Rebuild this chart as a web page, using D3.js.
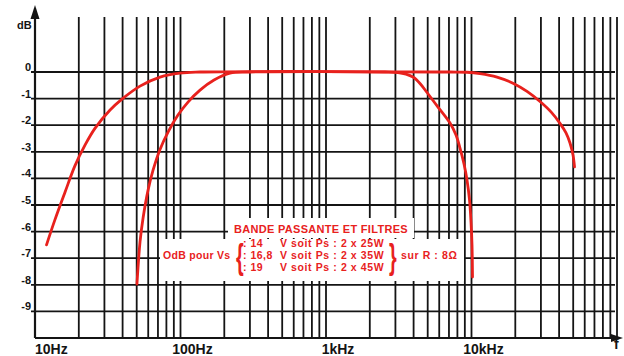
<!DOCTYPE html>
<html>
<head>
<meta charset="utf-8">
<script src="https://cdn.jsdelivr.net/npm/d3@7"></script>
<style>
body { margin: 0; background: #fff; }
svg text { font-family: "Liberation Sans", Arial, sans-serif; font-weight: bold; }
</style>
</head>
<body>
<svg id="chart" width="624" height="356"></svg>
<script>
// Data
var dbTicks = [0, -1, -2, -3, -4, -5, -6, -7, -8, -9];
var dbLabels = ["0", "-1", "-2", "-3", "-4", "-5", "-6", "-7", "-8", "-9"];
var freqLabelValues = [10, 100, 1000, 10000];
var freqLabels = ["10Hz", "100Hz", "1kHz", "10kHz"];

// wide curve (bande passante), Hz / dB
var wideFreq = [12.0, 13.7, 16.1, 18.8, 22.1, 25.9, 32.8, 39.6, 52.7, 72.3, 99.2, 136,
	7117, 9314, 11440, 14970, 19280, 24070, 29570, 35190, 40570, 44620, 47530, 49850, 51050];
var wideDb = [-6.5, -5.56, -4.51, -3.53, -2.74, -2.11, -1.43, -1.02, -0.53, -0.19, -0.04, 0,
	0, -0.01, -0.06, -0.19, -0.42, -0.73, -1.11, -1.5, -1.93, -2.29, -2.67, -3.12, -3.57];

// narrow curve (filtres), Hz / dB
var narrowFreq = [50.2, 52.7, 55.3, 59.8, 64.7, 72.3, 82.1, 96.1, 112.6, 136.2, 170, 219, 300,
	2544, 3125, 3545, 3962, 4426, 4946, 5886, 7117, 7825, 8337, 8883, 9314, 9690, 9922, 10080, 10160];
var narrowDb = [-7.97, -6.39, -5.49, -4.45, -3.7, -2.91, -2.26, -1.62, -1.13, -0.68, -0.3, -0.04, 0,
	0, -0.02, -0.08, -0.19, -0.43, -0.77, -1.32, -1.92, -2.37, -2.86, -3.46, -4.06, -4.81, -5.64, -6.5, -7.71];

var legendTitle = "BANDE PASSANTE ET FILTRES";
var voltages = ["14", "16,8", "19"];
var powers = ["25", "35", "45"];

var red = "#e8211d";
var ink = "#141414";

var svg = d3.select("#chart");

var x = d3.scaleLog().domain([10, 100000]).range([35, 617]);
var y = d3.scaleLinear().domain([0, -10]).range([72, 338]);

// vertical grid
svg.append("g")
	.selectAll("line")
	.data(x.ticks().filter(function(d) { return d > 10; }))
	.enter()
	.append("line")
	.attr("x1", function(d) { return x(d); })
	.attr("x2", function(d) { return x(d); })
	.attr("y1", 17)
	.attr("y2", y(-10))
	.attr("stroke", ink)
	.attr("stroke-width", 1.8);

// horizontal grid
svg.append("g")
	.selectAll("line")
	.data(dbTicks)
	.enter()
	.append("line")
	.attr("x1", 31)
	.attr("x2", 615)
	.attr("y1", function(d) { return y(d); })
	.attr("y2", function(d) { return y(d); })
	.attr("stroke", ink)
	.attr("stroke-width", 1.8);

// axes with arrows
svg.append("line")
	.attr("x1", x(10)).attr("x2", x(10))
	.attr("y1", y(-10)).attr("y2", 12)
	.attr("stroke", ink).attr("stroke-width", 2.2);
svg.append("path")
	.attr("d", "M" + x(10) + ",5 l-4.5,14 h9 z")
	.attr("fill", ink);
svg.append("line")
	.attr("x1", x(10)).attr("x2", 616)
	.attr("y1", y(-10)).attr("y2", y(-10))
	.attr("stroke", ink).attr("stroke-width", 2.2);
svg.append("path")
	.attr("d", "M623," + y(-10) + " l-12,-4 v8 z")
	.attr("fill", ink);

// y labels
svg.append("g")
	.selectAll("text")
	.data(dbTicks)
	.enter()
	.append("text")
	.attr("x", 31)
	.attr("y", function(d) { return y(d) - 1; })
	.attr("text-anchor", "end")
	.attr("font-size", 11)
	.attr("fill", ink)
	.text(function(d, i) { return dbLabels[i]; });

svg.append("text")
	.attr("x", 17).attr("y", 29)
	.attr("font-size", 11)
	.attr("fill", ink)
	.text("dB");

// x labels
svg.append("g")
	.selectAll("text")
	.data(freqLabelValues)
	.enter()
	.append("text")
	.attr("x", function(d, i) { return i == 0 ? x(d) : x(d) + 12; })
	.attr("y", 354)
	.attr("text-anchor", function(d, i) { return i == 0 ? "start" : "middle"; })
	.attr("font-size", 14)
	.attr("fill", ink)
	.text(function(d, i) { return freqLabels[i]; });

svg.append("text")
	.attr("x", 614).attr("y", 349)
	.attr("font-size", 14)
	.attr("fill", ink)
	.text("f");

// curves
var line = d3.line()
	.x(function(d) { return x(d[0]); })
	.y(function(d) { return y(d[1]); })
	.curve(d3.curveCatmullRom.alpha(0.5));

[[wideFreq, wideDb], [narrowFreq, narrowDb]].forEach(function(s) {
	svg.append("path")
		.datum(s[0].map(function(f, i) { return [f, s[1][i]]; }))
		.attr("d", line)
		.attr("fill", "none")
		.attr("stroke", red)
		.attr("stroke-width", 2.8)
		.attr("stroke-linecap", "round");
});

// legend block (white patches under the text, like the print)
svg.append("rect").attr("x", 228).attr("y", 218).attr("width", 186).attr("height", 20).attr("fill", "#fff");
svg.append("rect").attr("x", 160).attr("y", 239).attr("width", 304).attr("height", 42).attr("fill", "#fff");

var leg = svg.append("g").attr("fill", red);

leg.append("text")
	.attr("x", 321).attr("y", 233)
	.attr("text-anchor", "middle")
	.attr("font-size", 11)
	.attr("letter-spacing", 0.3)
	.text(legendTitle);

leg.append("text")
	.attr("x", 163).attr("y", 259)
	.attr("font-size", 10.5)
	.attr("letter-spacing", 0.3)
	.text("OdB  pour  Vs");

leg.append("text")
	.attr("x", 0).attr("y", 0)
	.attr("transform", "translate(236,269) scale(0.55,0.95)")
	.attr("font-size", 36)
	.attr("font-weight", "normal")
	.text("{");

leg.selectAll("text.row1")
	.data(voltages)
	.enter()
	.append("text")
	.attr("x", 243)
	.attr("y", function(d, i) { return 247 + i * 12; })
	.attr("font-size", 10.5)
	.attr("letter-spacing", 0.5)
	.text(function(d) { return ": " + d; });

leg.selectAll("text.row2")
	.data(powers)
	.enter()
	.append("text")
	.attr("x", 280)
	.attr("y", function(d, i) { return 247 + i * 12; })
	.attr("font-size", 10.5)
	.attr("letter-spacing", 0.6)
	.text(function(d) { return "V soit Ps : 2 x " + d + "W"; });

leg.append("text")
	.attr("x", 0).attr("y", 0)
	.attr("transform", "translate(389,269) scale(0.55,0.95)")
	.attr("font-size", 36)
	.attr("font-weight", "normal")
	.text("}");

leg.append("text")
	.attr("x", 401).attr("y", 259)
	.attr("font-size", 10.5)
	.attr("letter-spacing", 0.6)
	.text("sur R : 8\u03a9");
</script>
</body>
</html>
